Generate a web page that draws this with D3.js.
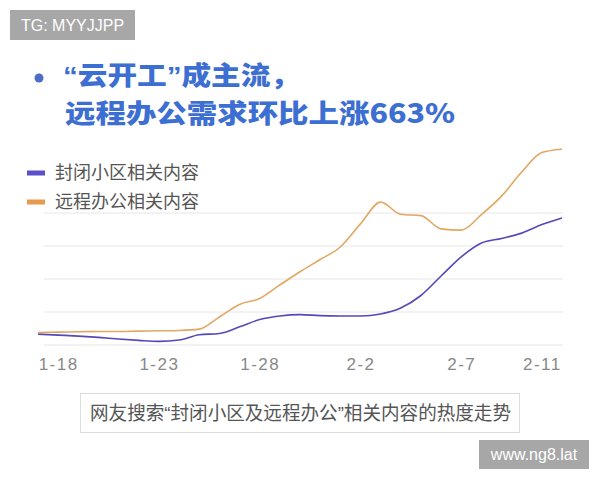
<!DOCTYPE html>
<html>
<head>
<meta charset="utf-8">
<script src="https://cdn.jsdelivr.net/npm/d3@7"></script>
<style>
  body { margin: 0; background: #fff; }
  svg { display: block; }
</style>
</head>
<body>
<div id="chart"></div>
<script>
// dates 1-17 .. 2-12
const dates = ['1-17', '1-18', '1-19', '1-20', '1-21', '1-22', '1-23', '1-24', '1-25',
  '1-26', '1-27', '1-28', '1-29', '1-30', '1-31', '2-1', '2-2', '2-3', '2-4', '2-5',
  '2-6', '2-7', '2-8', '2-9', '2-10', '2-11', '2-12'];
const tickLabels = ['1-18', '1-23', '1-28', '2-2', '2-7', '2-11'];
const gridValues = [0, 100, 200, 300, 400];

// heat index
const closedCommunity = [33, 30, 27, 23, 18, 14, 11, 15, 31, 35, 55, 77, 88, 92, 89,
  88, 88, 94, 112, 150, 209, 267, 309, 323, 339, 365, 385];
const remoteWork = [38, 39, 40, 41, 41, 42, 43, 44, 48, 85, 123, 141, 182, 222, 259,
  297, 367, 433, 396, 392, 352, 348, 395, 451, 524, 583, 593];

const seriesNames = ['封闭小区相关内容', '远程办公相关内容'];
const lineColors = ['#5548b8', '#e2a762'];
const swatchColors = ['#5b4fcc', '#e8994d'];

const width = 600;
const height = 480;
const cjk = '"Noto Sans CJK SC", sans-serif';
const latin = 'Liberation Sans, Arial, sans-serif';
// latin first so the curly quotes stay narrow, CJK falls back
const mixed = '"Liberation Sans", "Noto Sans CJK SC", sans-serif';

const svg = d3.select('#chart').append('svg')
  .attr('width', width)
  .attr('height', height);

// watermark boxes
const wm = [
  { x: 10, y: 10, w: 125, h: 30, t: 'TG: MYYJJPP' },
  { x: 479, y: 440, w: 110, h: 29, t: 'www.ng8.lat' },
];
wm.forEach((m) => {
  svg.append('rect')
    .attr('x', m.x).attr('y', m.y)
    .attr('width', m.w).attr('height', m.h)
    .attr('fill', '#a7a7a7');
  svg.append('text')
    .attr('x', m.x + m.w / 2).attr('y', m.y + m.h / 2)
    .attr('dy', '0.36em')
    .attr('text-anchor', 'middle')
    .attr('fill', '#fff')
    .attr('font-family', latin)
    .attr('font-size', 16)
    .text(m.t);
});

// title
svg.append('circle')
  .attr('cx', 39).attr('cy', 78).attr('r', 4.5)
  .attr('fill', '#4c6dc2');

const title = svg.append('g')
  .attr('font-weight', 900)
  .attr('font-size', 26)
  .attr('fill', '#3d6fd3');
title.append('text')
  .attr('x', 63).attr('y', 76).attr('dy', '0.36em')
  .attr('font-family', mixed)
  .attr('textLength', 237)
  .attr('lengthAdjust', 'spacingAndGlyphs')
  .text('“云开工”成主流，');
title.append('text')
  .attr('x', 65).attr('y', 114).attr('dy', '0.36em')
  .attr('font-family', cjk)
  .attr('textLength', 390)
  .attr('lengthAdjust', 'spacingAndGlyphs')
  .text('远程办公需求环比上涨663%');

// legend
const legend = svg.append('g')
  .attr('font-family', cjk)
  .attr('font-size', 18)
  .attr('fill', '#555');
seriesNames.forEach((name, i) => {
  const cy = 173 + i * 29;
  legend.append('rect')
    .attr('x', 27).attr('y', cy - 2.5)
    .attr('width', 18).attr('height', 5)
    .attr('fill', swatchColors[i]);
  legend.append('text')
    .attr('x', 55).attr('y', cy).attr('dy', '0.35em')
    .text(name);
});

// scales
const x = d3.scalePoint().domain(dates).range([38, 562]);
const y = d3.scaleLinear().domain([0, 600]).range([345, 147]);

// grid
svg.append('g')
  .selectAll('line')
  .data(gridValues)
  .join('line')
  .attr('x1', 44).attr('x2', 563)
  .attr('y1', (d) => y(d)).attr('y2', (d) => y(d))
  .attr('stroke', '#e6e6e6')
  .attr('stroke-width', 1);

// x axis
const xAxis = svg.append('g')
  .attr('transform', `translate(0, ${y(0)})`)
  .call(d3.axisBottom(x).tickValues(tickLabels).tickSize(0).tickPadding(13));
xAxis.select('.domain').remove();
xAxis.selectAll('text')
  .attr('font-family', latin)
  .attr('font-size', 17)
  .attr('letter-spacing', 1.5)
  .attr('fill', '#888');

// lines
const line = d3.line()
  .x((d, i) => x(dates[i]))
  .y((d) => y(d))
  .curve(d3.curveMonotoneX);

[closedCommunity, remoteWork].forEach((vals, i) => {
  svg.append('path')
    .datum(vals)
    .attr('d', line)
    .attr('fill', 'none')
    .attr('stroke', lineColors[i])
    .attr('stroke-width', 1.6);
});

// caption
svg.append('rect')
  .attr('x', 80.5).attr('y', 393.5)
  .attr('width', 439).attr('height', 39)
  .attr('fill', '#fff')
  .attr('stroke', '#dcdcdc');
svg.append('text')
  .attr('x', 90).attr('y', 413).attr('dy', '0.36em')
  .attr('textLength', 421)
  .attr('lengthAdjust', 'spacingAndGlyphs')
  .attr('font-family', mixed)
  .attr('font-size', 19)
  .attr('fill', '#555')
  .text('网友搜索“封闭小区及远程办公”相关内容的热度走势');
</script>
</body>
</html>
